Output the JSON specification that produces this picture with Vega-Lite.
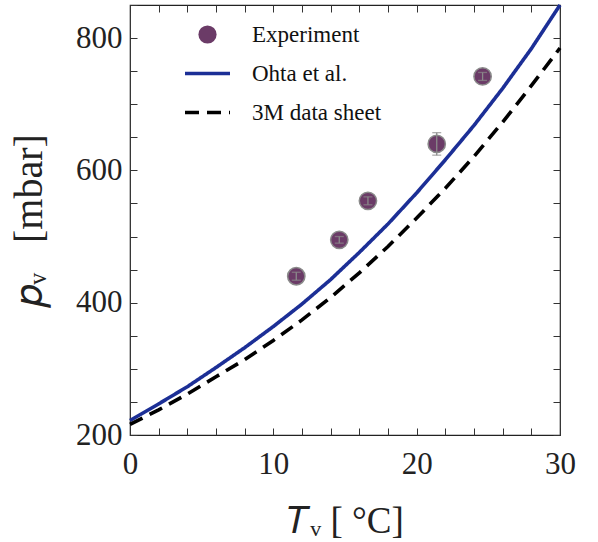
{
  "$schema": "https://vega.github.io/schema/vega-lite/v6.json",
  "width": 430,
  "height": 430,
  "autosize": "none",
  "padding": {"left": 130, "top": 5, "right": 38, "bottom": 107},
  "background": "white",
  "config": {
    "view": {"stroke": "#222", "strokeWidth": 1.2},
    "font": "Liberation Serif",
    "axis": {"labelOverlap": false, "labelSeparation": -200}
  },
  "datasets": {
    "curves": [
      {"T": 0, "p": 222, "series": "Ohta et al."},
      {"T": 2, "p": 247, "series": "Ohta et al."},
      {"T": 4, "p": 273, "series": "Ohta et al."},
      {"T": 6, "p": 302, "series": "Ohta et al."},
      {"T": 8, "p": 332, "series": "Ohta et al."},
      {"T": 10, "p": 364, "series": "Ohta et al."},
      {"T": 12, "p": 398, "series": "Ohta et al."},
      {"T": 14, "p": 435, "series": "Ohta et al."},
      {"T": 16, "p": 476, "series": "Ohta et al."},
      {"T": 18, "p": 519, "series": "Ohta et al."},
      {"T": 20, "p": 566, "series": "Ohta et al."},
      {"T": 22, "p": 616, "series": "Ohta et al."},
      {"T": 24, "p": 668, "series": "Ohta et al."},
      {"T": 26, "p": 724, "series": "Ohta et al."},
      {"T": 28, "p": 784, "series": "Ohta et al."},
      {"T": 30, "p": 850, "series": "Ohta et al."},
      {"T": 0, "p": 216, "series": "3M data sheet"},
      {"T": 2, "p": 238, "series": "3M data sheet"},
      {"T": 4, "p": 262, "series": "3M data sheet"},
      {"T": 6, "p": 288, "series": "3M data sheet"},
      {"T": 8, "p": 314, "series": "3M data sheet"},
      {"T": 10, "p": 343, "series": "3M data sheet"},
      {"T": 12, "p": 374, "series": "3M data sheet"},
      {"T": 14, "p": 408, "series": "3M data sheet"},
      {"T": 16, "p": 445, "series": "3M data sheet"},
      {"T": 18, "p": 485, "series": "3M data sheet"},
      {"T": 20, "p": 528, "series": "3M data sheet"},
      {"T": 22, "p": 573, "series": "3M data sheet"},
      {"T": 24, "p": 621, "series": "3M data sheet"},
      {"T": 26, "p": 673, "series": "3M data sheet"},
      {"T": 28, "p": 728, "series": "3M data sheet"},
      {"T": 30, "p": 785, "series": "3M data sheet"}
    ],
    "exp": [
      {"T": 11.6, "p": 440, "lo": 434, "hi": 446, "series": "Experiment"},
      {"T": 14.6, "p": 495, "lo": 490, "hi": 500, "series": "Experiment"},
      {"T": 16.6, "p": 554, "lo": 548, "hi": 560, "series": "Experiment"},
      {"T": 21.4, "p": 640, "lo": 623, "hi": 657, "series": "Experiment"},
      {"T": 24.6, "p": 742, "lo": 736, "hi": 748, "series": "Experiment"}
    ]
  },
  "layer": [
    {
      "layer": [
        {
          "data": {"name": "curves"},
          "mark": {"type": "line", "strokeWidth": 3.6},
          "encoding": {
            "x": {
              "field": "T", "type": "quantitative",
              "title": "𝑇ᵥ [ °C]",
              "scale": {"domain": [0, 30], "nice": false, "zero": false},
              "axis": {
                "values": [0, 2, 4, 6, 8, 10, 12, 14, 16, 18, 20, 22, 24, 26, 28, 30],
                "tickCount": 40,
                "labelExpr": "datum.value % 10 === 0 ? datum.label : ''",
                "tickSize": -7, "tickColor": "#333", "tickWidth": 1,
                "domain": false, "grid": false, "labelFlush": false, "labelOverlap": false, "labelSeparation": -200,
                "labelFont": "Liberation Serif", "labelFontSize": 31, "labelColor": "#222",
                "labelPadding": 21,
                "titleFont": "Liberation Serif", "titleFontSize": 37, "titleFontWeight": "normal",
                "titleColor": "#222", "titlePadding": 24
              }
            },
            "y": {
              "field": "p", "type": "quantitative",
              "title": "𝑝ᵥ\u2002 [mbar]",
              "scale": {"domain": [200, 850], "nice": false, "zero": false},
              "axis": {
                "values": [200, 250, 300, 350, 400, 450, 500, 550, 600, 650, 700, 750, 800, 850],
                "tickCount": 40,
                "labelExpr": "datum.value % 200 === 0 ? datum.label : ''",
                "tickSize": -7, "tickColor": "#333", "tickWidth": 1,
                "domain": false, "grid": false, "labelFlush": false, "labelOverlap": false, "labelSeparation": -200,
                "labelFont": "Liberation Serif", "labelFontSize": 31, "labelColor": "#222",
                "labelPadding": 15,
                "titleFont": "Liberation Serif", "titleFontSize": 40, "titleFontWeight": "normal",
                "titleColor": "#222", "titlePadding": 26
              }
            },
            "color": {
              "field": "series", "type": "nominal",
              "scale": {"domain": ["Experiment", "Ohta et al.", "3M data sheet"], "range": ["#6b3b67", "#1c2f96", "#000000"]},
              "legend": {
                "orient": "none", "legendX": 66, "legendY": 18, "title": null,
                "padding": 0, "symbolSize": 1521, "rowPadding": 15, "labelOffset": 33,
                "labelFont": "Liberation Serif", "labelFontSize": 23, "labelColor": "#111",
                "encode": {
                  "symbols": {
                    "update": {
                      "shape": {"signal": "datum.value === 'Experiment' ? 'circle' : 'stroke'"},
                      "fill": {"signal": "datum.value === 'Experiment' ? '#6b3b67' : 'transparent'"},
                      "stroke": {"signal": "datum.value === 'Experiment' ? '#6b3b67' : (datum.value === 'Ohta et al.' ? '#1c2f96' : '#000000')"},
                      "strokeDash": {"signal": "datum.value === '3M data sheet' ? [12, 7] : [1, 0]"},
                      "strokeWidth": {"signal": "datum.value === 'Experiment' ? 0 : 3.5"},
                      "size": {"signal": "datum.value === 'Experiment' ? 330 : 2025"},
                      "opacity": {"value": 1}
                    }
                  }
                }
              }
            },
            "strokeDash": {
              "field": "series", "type": "nominal",
              "scale": {"domain": ["Experiment", "Ohta et al.", "3M data sheet"], "range": [[1, 0], [1, 0], [14, 8]]},
              "legend": null
            }
          }
        },
        {
          "data": {"name": "exp"},
          "mark": {"type": "point", "filled": true, "size": 300, "opacity": 1, "stroke": "#8a8a8a", "strokeWidth": 1.5},
          "encoding": {
            "x": {"field": "T", "type": "quantitative", "title": "𝑇ᵥ [ °C]"},
            "y": {"field": "p", "type": "quantitative", "title": "𝑝ᵥ\u2002 [mbar]"},
            "color": {"field": "series", "type": "nominal"}
          }
        },
        {
          "data": {"name": "exp"},
          "mark": {"type": "errorbar", "color": "#8a8a8a", "thickness": 1.3, "ticks": {"size": 9, "color": "#8a8a8a", "thickness": 1.3}},
          "encoding": {
            "x": {"field": "T", "type": "quantitative", "title": "𝑇ᵥ [ °C]"},
            "y": {"field": "lo", "type": "quantitative", "title": "𝑝ᵥ\u2002 [mbar]"},
            "y2": {"field": "hi"}
          }
        }
      ]
    },
    {
      "data": {"values": [{"T": 0, "p": 200}]},
      "mark": {"type": "point", "opacity": 0},
      "encoding": {
        "x": {
          "field": "T", "type": "quantitative",
          "scale": {"domain": [0, 30], "nice": false, "zero": false},
          "axis": {
            "orient": "top", "values": [0, 2, 4, 6, 8, 10, 12, 14, 16, 18, 20, 22, 24, 26, 28, 30],
            "tickCount": 40,
            "labels": false, "tickSize": -7, "tickColor": "#333", "domain": false, "grid": false, "title": null
          }
        },
        "y": {
          "field": "p", "type": "quantitative",
          "scale": {"domain": [200, 850], "nice": false, "zero": false},
          "axis": {
            "orient": "right", "values": [200, 250, 300, 350, 400, 450, 500, 550, 600, 650, 700, 750, 800, 850],
            "tickCount": 40,
            "labels": false, "tickSize": -7, "tickColor": "#333", "domain": false, "grid": false, "title": null
          }
        }
      }
    }
  ],
  "resolve": {"scale": {"x": "independent", "y": "independent"}}
}
